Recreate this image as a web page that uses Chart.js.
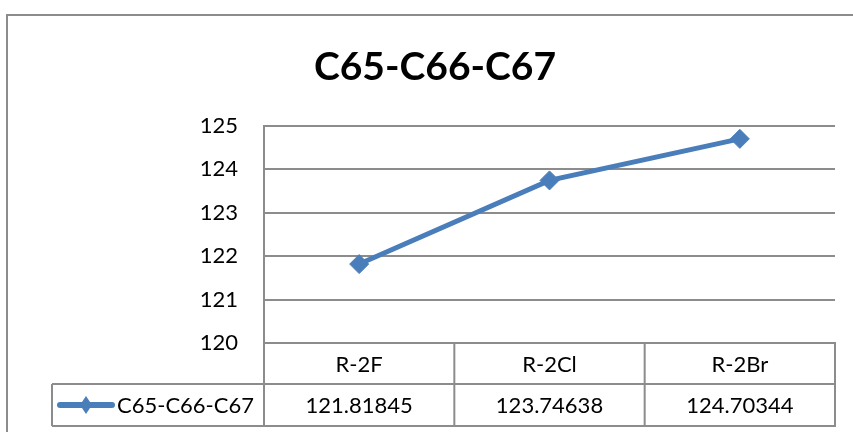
<!DOCTYPE html>
<html>
<head>
<meta charset="utf-8">
<script src="https://cdn.jsdelivr.net/npm/chart.js@4/dist/chart.umd.min.js"></script>
<style>
  html, body { margin: 0; padding: 0; background: #ffffff; }
  #wrap { width: 853px; height: 432px; position: relative; }
</style>
</head>
<body>
<div id="wrap"><canvas id="c" width="853" height="432"></canvas></div>
<script>
// Bond angle data
const chartTitle = 'C65-C66-C67';
const categories = ['R-2F', 'R-2Cl', 'R-2Br'];
const seriesName = 'C65-C66-C67';
const values = [121.81845, 123.74638, 124.70344];
const valueLabels = ['121.81845', '123.74638', '124.70344'];
const yTicks = [120, 121, 122, 123, 124, 125];

const LINE_BLUE = '#4a7ebb';
const GRID_GRAY = '#8c8c8c';
const FONT = 'Lato, "Open Sans", sans-serif';

// Outer frame and title
const framePlugin = {
  id: 'frame',
  beforeDraw(chart) {
    const ctx = chart.ctx;
    ctx.save();
    ctx.fillStyle = '#ffffff';
    ctx.fillRect(0, 0, chart.width, chart.height);
    ctx.strokeStyle = GRID_GRAY;
    ctx.lineWidth = 2;
    ctx.beginPath();
    ctx.moveTo(7, chart.height);
    ctx.lineTo(7, 15);
    ctx.lineTo(chart.width, 15);
    ctx.stroke();
    ctx.fillStyle = '#000000';
    ctx.font = 'bold 39px ' + FONT;
    ctx.textAlign = 'center';
    ctx.textBaseline = 'alphabetic';
    ctx.fillText(chartTitle, 435, 80);
    ctx.restore();
  }
};

// Data table under the plot area, columns aligned with the category scale
const tablePlugin = {
  id: 'dataTable',
  afterDraw(chart) {
    const ctx = chart.ctx;
    const area = chart.chartArea;
    const xs = chart.scales.x;
    const n = categories.length;
    const bounds = [area.left];
    for (let i = 0; i < n - 1; i++) {
      bounds.push((xs.getPixelForValue(i) + xs.getPixelForValue(i + 1)) / 2);
    }
    bounds.push(area.right);

    const top = area.bottom;
    const mid = top + 41;
    const bottom = top + 83;
    const legendLeft = 52;

    ctx.save();
    ctx.strokeStyle = GRID_GRAY;
    ctx.lineWidth = 2;
    ctx.beginPath();
    // horizontal rules
    ctx.moveTo(area.left, top); ctx.lineTo(area.right + 1, top);
    ctx.moveTo(legendLeft, mid); ctx.lineTo(area.right + 1, mid);
    ctx.moveTo(legendLeft, bottom); ctx.lineTo(area.right + 1, bottom);
    // vertical rules
    bounds.forEach(b => { ctx.moveTo(b, top); ctx.lineTo(b, bottom); });
    ctx.moveTo(legendLeft, mid); ctx.lineTo(legendLeft, bottom);
    ctx.stroke();

    ctx.fillStyle = '#000000';
    ctx.font = '22px ' + FONT;
    ctx.textAlign = 'center';
    ctx.textBaseline = 'middle';
    for (let i = 0; i < n; i++) {
      const cx = (bounds[i] + bounds[i + 1]) / 2;
      ctx.fillText(categories[i], cx, (top + mid) / 2 + 1);
      ctx.fillText(valueLabels[i], cx, (mid + bottom) / 2 + 1);
    }

    // legend key
    const ky = (mid + bottom) / 2;
    ctx.strokeStyle = LINE_BLUE;
    ctx.lineWidth = 6;
    ctx.lineCap = 'round';
    ctx.beginPath();
    ctx.moveTo(60, ky); ctx.lineTo(112, ky);
    ctx.stroke();
    ctx.fillStyle = LINE_BLUE;
    ctx.beginPath();
    ctx.moveTo(86, ky - 9); ctx.lineTo(92, ky); ctx.lineTo(86, ky + 9); ctx.lineTo(80, ky);
    ctx.closePath();
    ctx.fill();
    ctx.fillStyle = '#000000';
    ctx.textAlign = 'left';
    ctx.fillText(seriesName, 117, ky + 1);
    ctx.restore();
  }
};

new Chart(document.getElementById('c'), {
  type: 'line',
  data: {
    labels: categories,
    datasets: [{
      label: seriesName,
      data: values,
      borderColor: LINE_BLUE,
      backgroundColor: LINE_BLUE,
      borderWidth: 5,
      pointStyle: 'rectRot',
      pointRadius: 9.5,
      pointBorderWidth: 1,
      pointBackgroundColor: LINE_BLUE,
      pointBorderColor: LINE_BLUE,
      tension: 0,
      fill: false
    }]
  },
  options: {
    responsive: false,
    animation: false,
    devicePixelRatio: 1,
    layout: { padding: { left: 0, right: 18, top: 126, bottom: 89 } },
    plugins: {
      legend: { display: false },
      title: { display: false },
      tooltip: { enabled: false }
    },
    scales: {
      x: {
        type: 'category',
        offset: true,
        display: false
      },
      y: {
        min: yTicks[0],
        max: yTicks[yTicks.length - 1],
        afterFit(scale) { scale.width = 264; },
        afterBuildTicks(scale) { scale.ticks = yTicks.map(v => ({ value: v })); },
        ticks: {
          color: '#000000',
          padding: 26,
          font: { family: FONT, size: 22 }
        },
        grid: {
          color: GRID_GRAY,
          lineWidth: 2,
          drawTicks: false
        },
        border: { display: true, color: GRID_GRAY, width: 2 }
      }
    }
  },
  plugins: [framePlugin, tablePlugin]
});
</script>
</body>
</html>
